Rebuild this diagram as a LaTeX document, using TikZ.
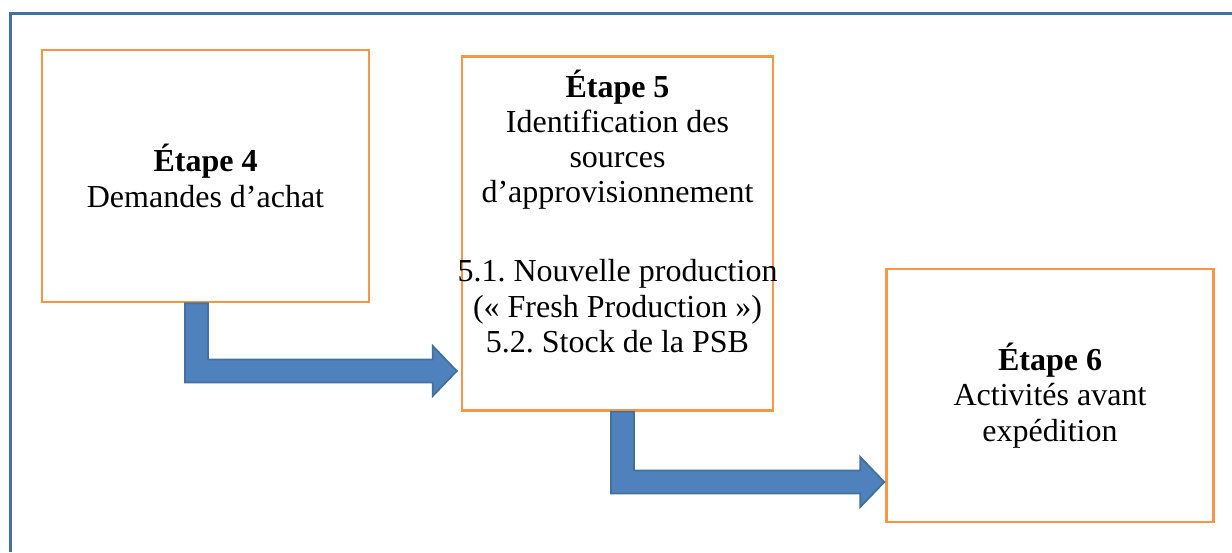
\documentclass[tikz,border=0pt]{standalone}
\usepackage{fontspec}
\setmainfont{Liberation Serif}
\usepackage{tikz}
\usetikzlibrary{calc}
\frenchspacing

\definecolor{cadre}{HTML}{41719C}
\definecolor{orangebox}{HTML}{F79646}
\definecolor{bleufleche}{HTML}{4F81BD}
\definecolor{bordfleche}{HTML}{41719C}

\tikzset{
  etape/.style={draw=orangebox, line width=1.25pt, minimum width=163.5pt,
    minimum height=126pt, inner sep=0pt, align=center,
    font=\fontsize{16}{17.6}\selectfont},
  texte/.style={inner sep=0pt, align=center, font=\fontsize{16}{17.6}\selectfont},
  fleche/.style={fill=bleufleche, draw=bordfleche, line width=0.9pt, line join=miter}
}

% bent block arrow: #1 top of the stem, #2 tip, #3 corner
\newcommand{\flecheL}[3]{%
  \coordinate (#3) at (#1 |- #2);
  \draw[fleche] ($(#1)+(-11.5,0)$) -- ($(#1)+(11.5,0)$) -- ($(#3)+(11.5,-11.5)$)
    -- ($(#2)+(-24,-11.5)$) -- ($(#2)+(-24,-25)$) -- (#2) -- ($(#2)+(-24,25)$)
    -- ($(#2)+(-24,11.5)$) -- ($(#3)+(-11.5,11.5)$) -- cycle;}

\begin{document}
\begin{tikzpicture}[x=0.5pt, y=-0.5pt]
  \useasboundingbox (0,0) rectangle (1232,552);
  \draw[cadre, line width=1.5pt] (1232,13.5) -- (10.5,13.5) -- (10.5,552);

  \node[etape] (box4) at (205.5,176) {\textbf{Étape 4}\\Demandes d’achat};
  \node[etape, minimum width=155.5pt, minimum height=177pt] (box5) at (617.5,233.5) {};
  \node[texte, anchor=north] (txt5) at ($(box5.north)+(0,14)$)
    {\textbf{Étape 5}\\Identification des\\sources\\d’approvisionnement\\[22pt]
     5.1. Nouvelle production\\(« Fresh Production »)\\5.2. Stock de la PSB};
  \node[etape, minimum height=126.5pt] (box6) at (1050,395.5)
    {\textbf{Étape 6}\\Activités avant\\expédition};

  \coordinate (f1s) at ($(box4.south)+(-9,0)$);
  \coordinate (f1t) at ($(box5.west)+(-4,137.5)$);
  \flecheL{f1s}{f1t}{f1c}
  \coordinate (f2s) at ($(box5.south)+(5,0)$);
  \coordinate (f2t) at ($(box6.west)+(-1,86.5)$);
  \flecheL{f2s}{f2t}{f2c}
\end{tikzpicture}
\end{document}
